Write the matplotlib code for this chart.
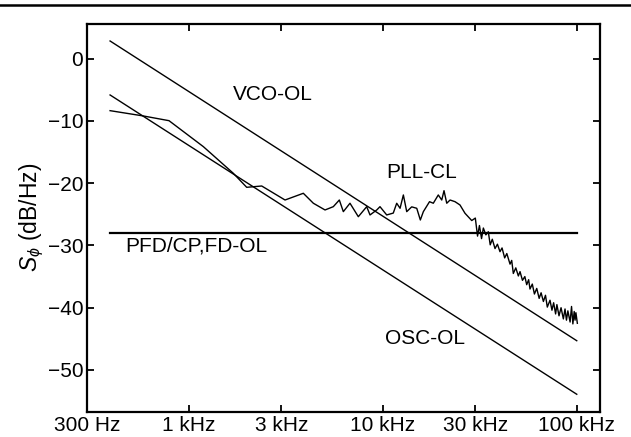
import matplotlib
matplotlib.use("Agg")
import matplotlib.pyplot as plt
from matplotlib.lines import Line2D
from matplotlib.ticker import FixedLocator, FixedFormatter, NullLocator

plt.rcParams['font.family'] = ['Liberation Sans', 'DejaVu Sans']
plt.rcParams['mathtext.fontset'] = 'custom'
plt.rcParams['mathtext.rm'] = 'Liberation Sans'
plt.rcParams['mathtext.it'] = 'Liberation Sans:italic'
plt.rcParams['axes.unicode_minus'] = True

# ---- data ----
f_ol = [393, 100000]
vco_ol = [2.84, -45.3]
osc_ol = [-5.83, -53.9]
pfd_level = -28.0

pll_f = [393, 583, 791, 1189, 1697, 1989, 2377, 3135, 3895, 4387, 5040, 5560,
         5972, 6262, 6777, 7482, 8265, 8596, 9310, 9676, 10480, 11330, 11800,
         12280, 12770, 13290, 14100, 14970, 15620, 16190, 17420, 18220, 19330,
         20140, 20690, 21370, 22230, 23580, 25010, 26540, 28750,
         30000, 30800, 31500, 32300, 33000, 34000, 35000, 35800, 36700, 37900,
         39000, 40200, 41200, 42500, 43600, 45300, 46200, 47100, 48500, 50000,
         51000, 52500, 54000, 55200, 56500, 57400, 59000, 60500, 62200, 64000,
         65500, 67300, 69000, 70500, 72800, 74500, 76000, 77800, 79000, 81000,
         83000, 85300, 87000, 88500, 90000, 92400, 94000, 95500, 97000, 98000,
         99000, 100700]
pll_db = [-8.35, -9.20, -9.96, -14.13, -18.41, -20.66, -20.45, -22.70, -21.62,
          -23.22, -24.30, -23.77, -22.70, -24.57, -23.22, -25.38, -23.77, -25.10,
          -24.30, -23.77, -25.10, -24.80, -23.22, -24.03, -21.89, -24.57, -23.80,
          -24.03, -25.91, -24.57, -22.97, -23.22, -21.89, -22.70, -21.20, -23.22,
          -22.70, -22.97, -23.50, -24.83, -26.00,
          -25.6, -28.5, -26.8, -28.9, -27.2, -28.3, -27.8, -29.9, -29.0, -30.5,
          -29.8, -31.0, -30.4, -32.0, -31.3, -33.0, -32.4, -34.5, -33.6, -34.9,
          -34.2, -35.6, -35.0, -36.3, -35.5, -37.0, -36.2, -37.8, -36.9, -38.5,
          -37.6, -39.0, -38.0, -39.9, -38.8, -40.4, -39.2, -41.0, -39.5, -41.3,
          -40.0, -41.8, -40.2, -42.0, -40.5, -42.3, -39.8, -42.6, -40.6, -42.0,
          -40.8, -42.5]

xticks = [300, 1000, 3000, 10000, 30000, 100000]
xticklabels = ['300 Hz', '1 kHz', '3 kHz', '10 kHz', '30 kHz', '100 kHz']
yticks = [0, -10, -20, -30, -40, -50]

labels = ['VCO-OL', 'PLL-CL', 'OSC-OL', 'PFD/CP,FD-OL']
label_pos = [(1690, -5.83, 'left'), (15860, -18.3, 'center'),
             (16510, -44.9, 'center'), (469, -30.1, 'left')]

# ---- figure ----
fig = plt.figure(figsize=(6.31, 4.37), dpi=100)
ax = fig.add_axes([0.1384, 0.0579, 0.9509 - 0.1384, 0.9451 - 0.0579])

ax.plot(f_ol, vco_ol, color='black', lw=1.0)
ax.plot(f_ol, osc_ol, color='black', lw=1.0)
ax.plot(f_ol, [pfd_level, pfd_level], color='black', lw=1.6)
ax.plot(pll_f, pll_db, color='black', lw=1.0)

ax.set_xscale('log')
ax.set_xlim(300, 131800)
ax.set_ylim(-56.7, 5.57)

ax.xaxis.set_major_locator(FixedLocator(xticks))
ax.xaxis.set_major_formatter(FixedFormatter(xticklabels))
ax.xaxis.set_minor_locator(NullLocator())
ax.set_yticks(yticks)
ax.set_yticklabels([str(v).replace('-', '\u2212') for v in yticks])

ax.tick_params(direction='in', length=5, width=1.3, top=True, right=True,
               labelsize=15, pad=3)
for s in ax.spines.values():
    s.set_linewidth(1.6)

ax.set_ylabel(r'$S_{\phi}$ (dB/Hz)', fontsize=16.5, labelpad=1)

for txt, (x, y, ha) in zip(labels, label_pos):
    ax.text(x, y, txt, fontsize=15, ha=ha, va='center')

fig.add_artist(Line2D([0, 1], [0.989, 0.989], transform=fig.transFigure,
                      color='black', lw=1.8))

fig.savefig('out.png', dpi=100)
